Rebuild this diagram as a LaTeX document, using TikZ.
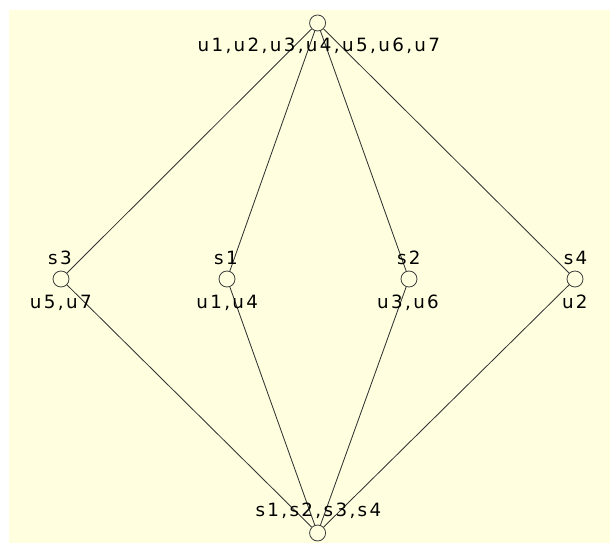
\documentclass[tikz,border=0pt]{standalone}
\usepackage{fontspec}
\setmainfont{DejaVu Sans}[LetterSpace=13]
\definecolor{paper}{RGB}{255,255,224}
\tikzset{
  vtx/.style={circle, draw=black!75, line width=0.6pt, minimum size=0.4cm, inner sep=0pt},
  lbl/.style={anchor=base, inner sep=0pt, font=\fontsize{13}{15}\selectfont},
  edge/.style={black!80, line width=0.6pt}
}
\begin{document}
\begin{tikzpicture}
\useasboundingbox (0,0) rectangle (15.25,13.575);
\fill[paper] (0.225,0) rectangle (15.25,13.325);

\node[vtx] (top) at (7.94,13.0) {};
\node[vtx] (s3) at (1.525,6.6) {};
\node[vtx] (s1) at (5.675,6.6) {};
\node[vtx] (s2) at (10.225,6.6) {};
\node[vtx] (s4) at (14.375,6.6) {};
\node[vtx] (bot) at (7.94,0.25) {};

\draw[edge] (top) -- (s3);
\draw[edge] (top) -- (s1);
\draw[edge] (top) -- (s2);
\draw[edge] (top) -- (s4);
\draw[edge] (s3) -- (bot);
\draw[edge] (s1) -- (bot);
\draw[edge] (s2) -- (bot);
\draw[edge] (s4) -- (bot);

\node[lbl] (topext) at (7.97,12.29) {u1,u2,u3,u4,u5,u6,u7};
\node[lbl] (s3int) at (1.5,6.95) {s3};
\node[lbl] (s3ext) at (1.52,5.85) {u5,u7};
\node[lbl] (s1int) at (5.65,6.95) {s1};
\node[lbl] (s1ext) at (5.68,5.85) {u1,u4};
\node[lbl] (s2int) at (10.22,6.95) {s2};
\node[lbl] (s2ext) at (10.2,5.85) {u3,u6};
\node[lbl] (s4int) at (14.39,6.95) {s4};
\node[lbl] (s4ext) at (14.37,5.85) {u2};
\node[lbl] (botint) at (7.96,0.66) {s1,s2,s3,s4};
\end{tikzpicture}
\end{document}
